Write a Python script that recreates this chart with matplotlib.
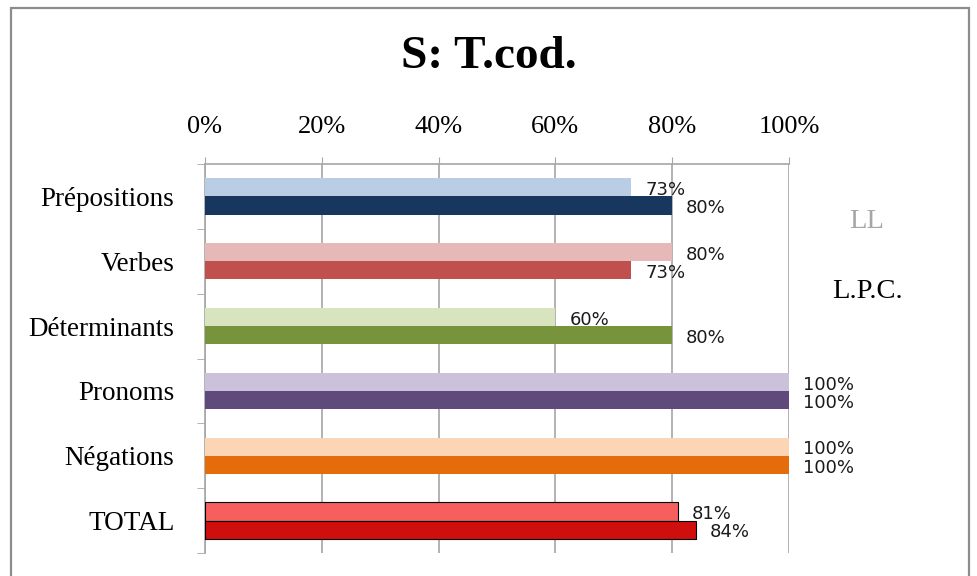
import matplotlib
matplotlib.use("Agg")
import matplotlib.pyplot as plt
from matplotlib.patches import Rectangle
import numpy as np

# data
categories = ["Prépositions", "Verbes", "Déterminants", "Pronoms", "Négations", "TOTAL"]
ll_values = [73, 80, 60, 100, 100, 81]      # LL (light bars, upper)
lpc_values = [80, 73, 80, 100, 100, 84]     # L.P.C. (dark bars, lower)
ll_colors = ["#B9CDE5", "#E6B9B8", "#D7E4BD", "#CCC1DA", "#FCD5B5", "#F75F5F"]
lpc_colors = ["#17375E", "#C0504D", "#77933C", "#604A7B", "#E46C0A", "#D00E0E"]
xticks = [0, 20, 40, 60, 80, 100]
title = "S: T.cod."
series_names = ["LL", "L.P.C."]

serif = "Liberation Serif"
grid_col = "#A6A6A6"

fig = plt.figure(figsize=(9.77, 5.76), dpi=100)

# outer frame of the chart area
fig.patches.append(Rectangle((11 / 977, -0.05), 958 / 977, 1.05 - 8 / 576,
                             transform=fig.transFigure, fill=False,
                             edgecolor="#8C8C8C", linewidth=1.6))

ax = fig.add_axes([205 / 977, 1 - 553 / 576, 584 / 977, 389 / 576])

y = np.arange(len(categories))
h = 0.28
for i in range(len(categories)):
    edge = "black" if categories[i] == "TOTAL" else "none"
    ax.barh(y[i] - h / 2, ll_values[i], height=h, color=ll_colors[i],
            edgecolor=edge, linewidth=0.8, zorder=3)
    ax.barh(y[i] + h / 2, lpc_values[i], height=h, color=lpc_colors[i],
            edgecolor=edge, linewidth=0.8, zorder=3)
    ax.annotate(f"{ll_values[i]}%", (ll_values[i], y[i] - h / 2), xytext=(10, -2),
                textcoords="offset points", va="center", ha="left",
                fontsize=13, color="#1a1a1a", zorder=4)
    ax.annotate(f"{lpc_values[i]}%", (lpc_values[i], y[i] + h / 2), xytext=(10, -2),
                textcoords="offset points", va="center", ha="left",
                fontsize=13, color="#1a1a1a", zorder=4)

ax.set_xlim(0, 100)
ax.set_ylim(len(categories) - 0.5, -0.5)

ax.xaxis.tick_top()
ax.set_xticks(xticks)
ax.set_xticklabels([f"{v}%" for v in xticks], fontfamily=serif, fontsize=19)
ax.tick_params(axis="x", direction="out", length=5, color=grid_col, pad=14)

ax.set_yticks(y)
ax.set_yticklabels(categories, fontfamily=serif, fontsize=19.5)
ax.set_yticks(np.arange(-0.5, len(categories)), minor=True)
ax.tick_params(axis="y", which="major", length=0, pad=22)
ax.tick_params(axis="y", which="minor", direction="out", length=6, color=grid_col)

ax.grid(axis="x", color=grid_col, linewidth=1.2, zorder=0)
for s in ["bottom", "right"]:
    ax.spines[s].set_visible(False)
for s in ["top", "left"]:
    ax.spines[s].set_color(grid_col)
    ax.spines[s].set_linewidth(1.2)

# title and text-only legend
fig.text(0.5, 1 - 57 / 576, title, ha="center", va="center",
         fontfamily=serif, fontsize=34, fontweight="bold")
fig.text(867 / 977, 1 - 221 / 576, series_names[0], ha="center", va="center",
         fontfamily=serif, fontsize=20.5, color="#A6A6A6")
fig.text(867 / 977, 1 - 291 / 576, series_names[1], ha="center", va="center",
         fontfamily=serif, fontsize=20.5, color="black")

fig.savefig("out.png", dpi=100)
